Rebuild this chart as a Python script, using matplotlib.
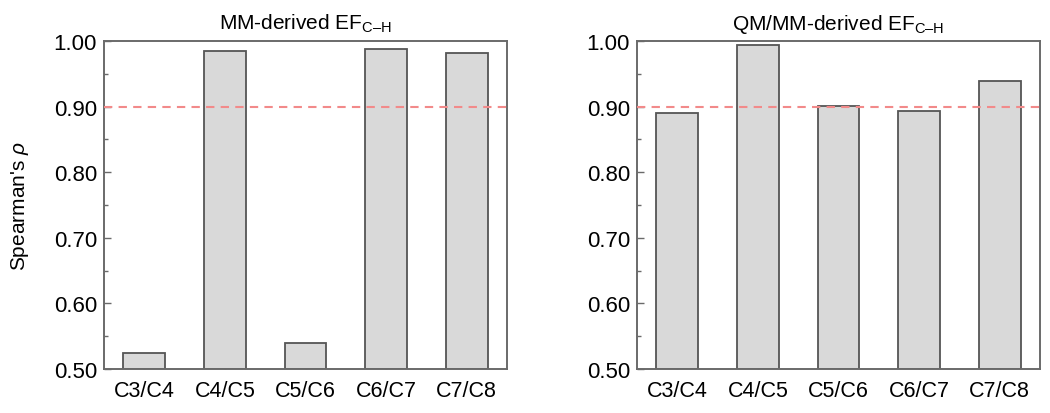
import matplotlib
matplotlib.use("Agg")
import matplotlib.pyplot as plt
from matplotlib.ticker import MultipleLocator, FormatStrFormatter

plt.rcParams['font.family'] = ['Liberation Sans', 'DejaVu Sans']
plt.rcParams['mathtext.fontset'] = 'custom'
plt.rcParams['mathtext.rm'] = 'Liberation Sans'
plt.rcParams['mathtext.it'] = 'Liberation Sans:italic'
plt.rcParams['mathtext.bf'] = 'Liberation Sans:bold'

categories = ["C3/C4", "C4/C5", "C5/C6", "C6/C7", "C7/C8"]
mm_values = [0.524, 0.985, 0.540, 0.988, 0.982]
qmmm_values = [0.891, 0.994, 0.901, 0.893, 0.939]
threshold = 0.90
sub = "$_{\\mathrm{C\u2013H}}$"
titles = ["MM-derived EF" + sub, "QM/MM-derived EF" + sub]

fig = plt.figure(figsize=(10.5, 4.14), dpi=100)
ax1 = fig.add_axes([104/1050, 44/414, 403/1050, 328/414])
ax2 = fig.add_axes([637/1050, 44/414, 403/1050, 328/414])

spine_c = '#6a6a6a'
for ax, vals, title in [(ax1, mm_values, titles[0]), (ax2, qmmm_values, titles[1])]:
    x = list(range(len(categories)))
    ax.bar(x, [v - 0.5 for v in vals], bottom=0.5, width=0.52,
           facecolor='#d9d9d9', edgecolor='#555555', linewidth=1.3, zorder=2)
    ax.axhline(threshold, color='#f28a8a', linestyle=(0, (4, 3)), linewidth=1.5, zorder=3)
    ax.set_xlim(-0.5, len(categories) - 0.5)
    ax.set_ylim(0.5, 1.0)
    ax.set_xticks(x)
    ax.set_xticklabels(categories)
    ax.yaxis.set_major_locator(MultipleLocator(0.1))
    ax.yaxis.set_minor_locator(MultipleLocator(0.05))
    ax.yaxis.set_major_formatter(FormatStrFormatter('%.2f'))
    ax.tick_params(axis='both', which='major', direction='in', length=5, width=1.0,
                   color=spine_c, labelsize=16, pad=5)
    ax.tick_params(axis='y', which='minor', direction='in', length=3, width=1.0, color=spine_c)
    ax.tick_params(axis='x', labelsize=15.5, pad=8)
    for s in ax.spines.values():
        s.set_color(spine_c)
        s.set_linewidth(1.4)
    ax.set_title(title, fontsize=15, pad=9)

ax1.set_ylabel(r"Spearman's $\rho$", fontsize=15, labelpad=16)

fig.savefig("out.png", dpi=100)
